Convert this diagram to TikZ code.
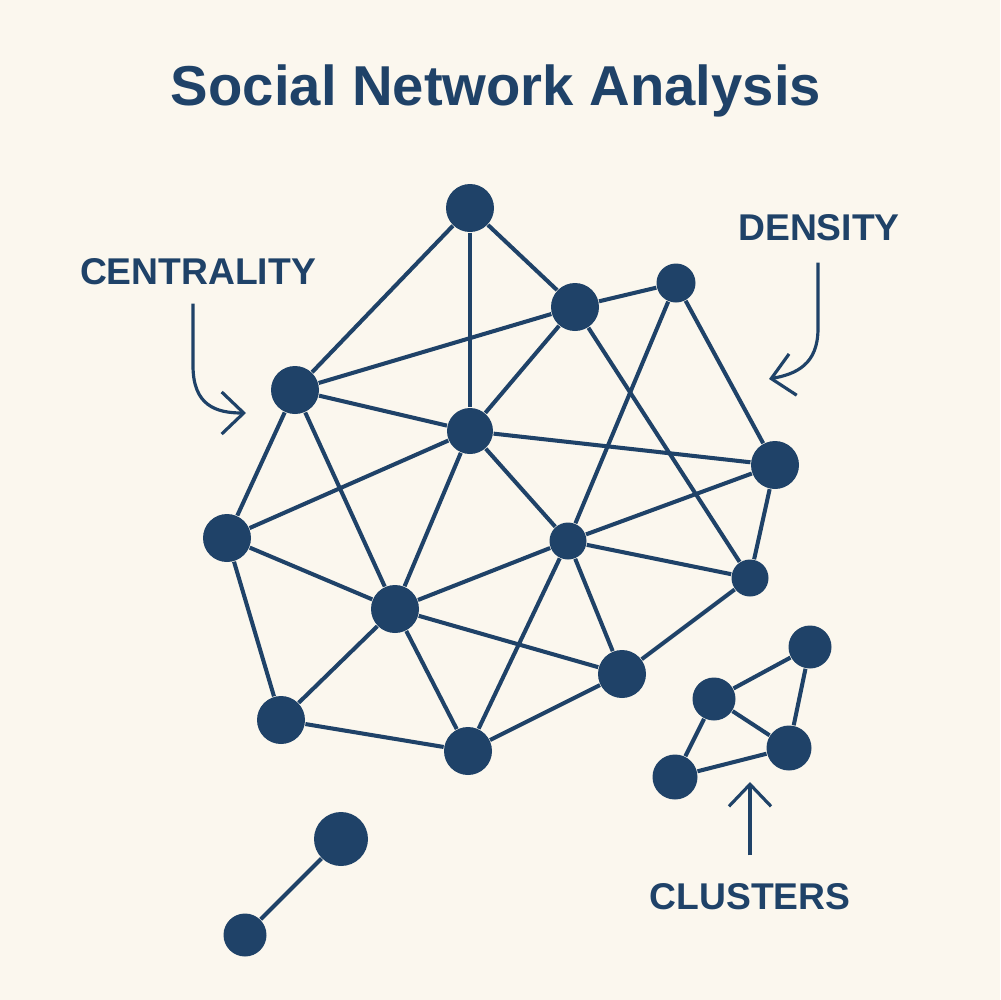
\documentclass[tikz,border=0pt]{standalone}
\usepackage{fontspec}
\setmainfont{Liberation Sans}
\usepackage{tikz}
\usetikzlibrary{arrows.meta}
\definecolor{mynavy}{HTML}{1F4268}
\definecolor{mycream}{HTML}{FBF7EE}
\tikzset{
	netnode/.style={
			shape=circle,
			fill=mynavy,
			draw=none,
			minimum size=4.8mm,
			inner sep=0pt
		},
	smallnode/.style={
			netnode,
			minimum size=3.7mm
		},
	midnode/.style={
			netnode,
			minimum size=4.3mm
		},
	bignode/.style={
			netnode,
			minimum size=5.4mm
		},
	edge/.style={
			draw=mynavy,
			line width=1.15pt
		},
	pointer/.style={
			draw=mynavy,
			line width=0.9pt,
			-{Straight Barb[length=2.2mm,width=4.2mm,line width=0.9pt]}
		},
	labeltext/.style={
			text=mynavy,
			font=\fontsize{10.6}{12}\selectfont\bfseries
		}
}
\tikzset{
	titletext/.style={text=mynavy, font=\fontsize{16}{19}\selectfont\bfseries}
}

\begin{document}
\begin{tikzpicture}[x=0.1mm, y=-0.1mm]

  \fill[mycream] (0,0) rectangle (1000,1000);
  \useasboundingbox (0,0) rectangle (1000,1000);

  \node[titletext] (title) at (496,91) {Social Network Analysis};

  % main network
  \node[netnode] (n1) at (470,208) {};
  \node[netnode] (n2) at (575,307) {};
  \node[smallnode, minimum size=3.9mm] (n3) at (676,283) {};
  \node[netnode] (n4) at (295,390) {};
  \node[netnode, minimum size=4.6mm] (n5) at (470,431) {};
  \node[netnode] (n6) at (775,465) {};
  \node[netnode] (n7) at (227,538) {};
  \node[smallnode] (n8) at (568,541) {};
  \node[smallnode] (n9) at (750,578) {};
  \node[netnode] (n10) at (395,609) {};
  \node[netnode] (n11) at (622,674) {};
  \node[netnode] (n12) at (281,720) {};
  \node[netnode] (n13) at (468,751) {};

  \draw[edge] (n1) -- (n2);
  \draw[edge] (n1) -- (n4);
  \draw[edge] (n1) -- (n5);
  \draw[edge] (n2) -- (n3);
  \draw[edge] (n2) -- (n4);
  \draw[edge] (n2) -- (n5);
  \draw[edge] (n2) -- (n9);
  \draw[edge] (n3) -- (n8);
  \draw[edge] (n3) -- (n6);
  \draw[edge] (n4) -- (n5);
  \draw[edge] (n4) -- (n7);
  \draw[edge] (n4) -- (n10);
  \draw[edge] (n5) -- (n6);
  \draw[edge] (n5) -- (n7);
  \draw[edge] (n5) -- (n10);
  \draw[edge] (n5) -- (n8);
  \draw[edge] (n6) -- (n8);
  \draw[edge] (n6) -- (n9);
  \draw[edge] (n7) -- (n10);
  \draw[edge] (n7) -- (n12);
  \draw[edge] (n8) -- (n9);
  \draw[edge] (n8) -- (n10);
  \draw[edge] (n8) -- (n13);
  \draw[edge] (n8) -- (n11);
  \draw[edge] (n10) -- (n11);
  \draw[edge] (n10) -- (n12);
  \draw[edge] (n10) -- (n13);
  \draw[edge] (n12) -- (n13);
  \draw[edge] (n13) -- (n11);
  \draw[edge] (n11) -- (n9);

  % cluster
  \node[midnode] (c1) at (810,647) {};
  \node[midnode] (c2) at (714,699) {};
  \node[midnode, minimum size=4.5mm] (c3) at (789,748) {};
  \node[midnode, minimum size=4.5mm] (c4) at (675,777) {};

  \draw[edge] (c2) -- (c1);
  \draw[edge] (c1) -- (c3);
  \draw[edge] (c2) -- (c3);
  \draw[edge] (c2) -- (c4);
  \draw[edge] (c4) -- (c3);

  % isolated pair
  \node[bignode] (p1) at (341,839) {};
  \node[midnode] (p2) at (245,935) {};
  \draw[edge] (p1) -- (p2);

  % labels
  \node[labeltext] (centrality) at (198,272) {CENTRALITY};
  \node[labeltext] (density) at (819,228) {DENSITY};
  \node[labeltext] (clusters) at (750,897) {CLUSTERS};

  \coordinate (centtip) at (246,413);
  \coordinate (denstip) at (769,379);
  \coordinate (clustip) at (750,782);

  \draw[pointer] (centrality.south -| 193,0) ++(0,6) -- ++(0,62) .. controls +(0,40) and (216,413) .. (centtip);
  \draw[pointer] (density.south -| 818,0) ++(0,9) -- ++(0,66) .. controls +(0,36) and (796,374) .. (denstip);
  \draw[pointer] (clusters.north) ++(0,-16) -- (clustip);

\end{tikzpicture}
\end{document}
